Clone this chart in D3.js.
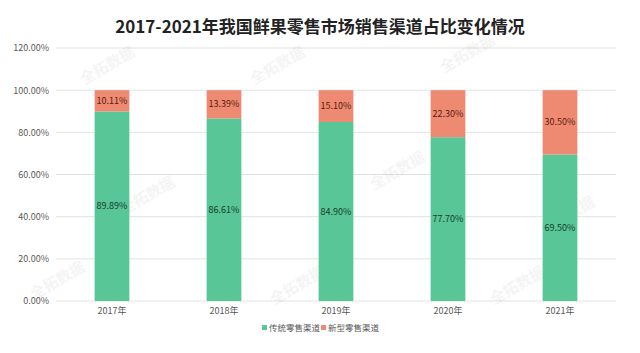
<!DOCTYPE html>
<html>
<head>
<meta charset="utf-8">
<script src="https://cdn.jsdelivr.net/npm/d3@7"></script>
<style>
body { margin: 0; background: #fff; }
text { font-family: "Microsoft YaHei", "Noto Sans CJK SC", sans-serif; }
</style>
</head>
<body>
<script>
// data
let years = ["2017年", "2018年", "2019年", "2020年", "2021年"];
let traditional = [89.89, 86.61, 84.90, 77.70, 69.50];
let newType = [10.11, 13.39, 15.10, 22.30, 30.50];
let seriesNames = ["传统零售渠道", "新型零售渠道"];
let yTicks = [0, 20, 40, 60, 80, 100, 120];

let width = 640, height = 353;
let svg = d3.select("body").append("svg")
   .attr("width", width).attr("height", height);

svg.append("text")
   .attr("x", 320).attr("y", 33)
   .attr("text-anchor", "middle")
   .style("font-size", "17px").style("font-weight", "bold").style("fill", "#222")
   .text("2017-2021年我国鲜果零售市场销售渠道占比变化情况");

let x = d3.scaleBand().domain(years).range([56, 616]).paddingInner(0.69).paddingOuter(0.345);
let y = d3.scaleLinear().domain([0, 120]).range([301, 48]);

// gridlines
svg.append("g").selectAll("line").data(yTicks).enter().append("line")
   .attr("x1", 56).attr("x2", 616)
   .attr("y1", function (d) { return y(d); })
   .attr("y2", function (d) { return y(d); })
   .style("stroke", "#e3e3e3").style("stroke-width", 1);

// y axis labels
let yAxis = svg.append("g").attr("transform", "translate(52,0)")
   .call(d3.axisLeft(y).tickValues(yTicks).tickSize(0).tickFormat(function (d) { return d.toFixed(2) + "%"; }));
yAxis.select(".domain").remove();
yAxis.selectAll("text").style("font-size", "9px").style("fill", "#595959")
   .style("font-family", "\"Microsoft YaHei\", \"Noto Sans CJK SC\", sans-serif");

// x axis labels
let xAxis = svg.append("g").attr("transform", "translate(0,305)")
   .call(d3.axisBottom(x).tickSize(0));
xAxis.select(".domain").remove();
xAxis.selectAll("text").style("font-size", "9px").style("fill", "#595959")
   .style("font-family", "\"Microsoft YaHei\", \"Noto Sans CJK SC\", sans-serif");

// watermarks
let marks = [[110, 70], [280, 70], [470, 58], [150, 200], [400, 175], [570, 220], [60, 285], [300, 290], [520, 290]];
svg.append("g").selectAll("text").data(marks).enter().append("text")
   .attr("transform", function (d) { return "translate(" + d[0] + "," + d[1] + ") rotate(-30)"; })
   .attr("text-anchor", "middle")
   .style("font-size", "15px").style("font-weight", "bold").style("fill", "#000").style("opacity", 0.04)
   .text("全拓数据");

let stacked = years.map(function (yr, i) {
   return { year: yr, a: traditional[i], b: newType[i] };
});

let bars = svg.append("g");
bars.selectAll("rect.a").data(stacked).enter().append("rect")
   .attr("x", function (d) { return x(d.year); })
   .attr("width", x.bandwidth())
   .attr("y", function (d) { return y(d.a); })
   .attr("height", function (d) { return y(0) - y(d.a); })
   .style("fill", "#58c697");
bars.selectAll("rect.b").data(stacked).enter().append("rect")
   .attr("x", function (d) { return x(d.year); })
   .attr("width", x.bandwidth())
   .attr("y", function (d) { return y(d.a + d.b); })
   .attr("height", function (d) { return y(d.a) - y(d.a + d.b); })
   .style("fill", "#ef8a72");

// value labels
bars.selectAll("text.a").data(stacked).enter().append("text")
   .attr("x", function (d) { return x(d.year) + x.bandwidth() / 2; })
   .attr("y", function (d) { return y(d.a / 2) + 3; })
   .attr("text-anchor", "middle")
   .style("font-size", "9px").style("fill", "#163d28")
   .text(function (d) { return d.a.toFixed(2) + "%"; });
bars.selectAll("text.b").data(stacked).enter().append("text")
   .attr("x", function (d) { return x(d.year) + x.bandwidth() / 2; })
   .attr("y", function (d) { return y(d.a + d.b / 2) + 3; })
   .attr("text-anchor", "middle")
   .style("font-size", "9px").style("fill", "#5a1a0c")
   .text(function (d) { return d.b.toFixed(2) + "%"; });

// legend
let legendColors = ["#58c697", "#ef8a72"];
let legendX = [262, 321];
let legend = svg.append("g").selectAll("g").data(seriesNames).enter().append("g")
   .attr("transform", function (d, i) { return "translate(" + legendX[i] + ",330)"; });
legend.append("rect").attr("x", 0).attr("y", -5).attr("width", 5).attr("height", 5)
   .style("fill", function (d, i) { return legendColors[i]; });
legend.append("text").attr("x", 7).attr("y", 0).attr("dy", "0.1em")
   .style("font-size", "8.5px").style("fill", "#595959")
   .text(function (d) { return d; });
</script>
</body>
</html>
